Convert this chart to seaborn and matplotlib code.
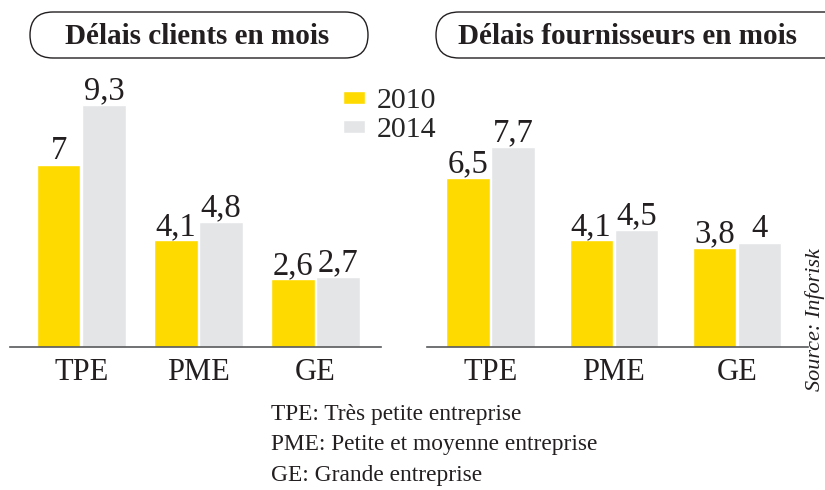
import pandas as pd
import matplotlib.pyplot as plt
from matplotlib.patches import FancyBboxPatch
import seaborn as sns

# data
categories = ["TPE", "PME", "GE"]
years = ["2010", "2014"]
clients_2010 = [7, 4.1, 2.6]
clients_2014 = [9.3, 4.8, 2.7]
fournisseurs_2010 = [6.5, 4.1, 3.8]
fournisseurs_2014 = [7.7, 4.5, 4]
titles = ["Délais clients en mois", "Délais fournisseurs en mois"]
notes = ["TPE: Très petite entreprise",
         "PME: Petite et moyenne entreprise",
         "GE: Grande entreprise"]
source = "Source: Inforisk"

colors = {"2010": "#FFDA00", "2014": "#E4E5E7"}

sns.set_theme(style="white")
plt.rcParams['font.family'] = ['Liberation Serif', 'DejaVu Serif']


def make_df(v2010, v2014):
    return pd.DataFrame({
        "cat": categories * 2,
        "year": [years[0]] * 3 + [years[1]] * 3,
        "val": list(v2010) + list(v2014),
    })


def fmt(v):
    return f"{v:g}".replace(".", ",")


fig = plt.figure(figsize=(8.25, 4.9), dpi=100)

# background layer in pixel units for title pills and notes
bg = fig.add_axes([0, 0, 1, 1])
bg.set_xlim(0, 825)
bg.set_ylim(490, 0)
bg.axis("off")

ax1 = fig.add_axes([10 / 825, 143 / 490, 371 / 825, 286 / 490])
ax2 = fig.add_axes([427 / 825, 143 / 490, 381 / 825, 286 / 490])

panels = [
    (ax1, make_df(clients_2010, clients_2014), 0.77, (-0.61, 2.56)),
    (ax2, make_df(fournisseurs_2010, fournisseurs_2014), 0.73, (-0.515, 2.576)),
]

for ax, df, w, xl in panels:
    sns.barplot(data=df, x="cat", y="val", hue="year", palette=colors,
                width=w, gap=0.04, saturation=1, ax=ax, legend=(ax is ax1))
    for cont, yr in zip(ax.containers, years):
        vals = df[df["year"] == yr]["val"].tolist()
        ax.bar_label(cont, labels=[fmt(v) for v in vals], padding=-1,
                     fontsize=23.5, color="#231f20")
    ax.set_ylim(0, 11)
    ax.set_xlim(*xl)
    ax.set_xlabel("")
    ax.set_ylabel("")
    ax.set_yticks([])
    for s in ["left", "right", "top"]:
        ax.spines[s].set_visible(False)
    ax.spines["bottom"].set_color("#58595b")
    ax.spines["bottom"].set_linewidth(1.2)
    ax.tick_params(axis="x", length=0, pad=8, labelsize=22, labelcolor="#231f20")
    ax.patch.set_alpha(0)

sns.move_legend(ax1, "upper left", bbox_to_anchor=(343 / 825, 1 - 88 / 490),
                bbox_transform=fig.transFigure, frameon=False, title=None,
                fontsize=21.5, handlelength=0.72, handleheight=0.3,
                handletextpad=0.4, labelspacing=0.1, borderpad=0,
                borderaxespad=0)

# title pills
for (x0, wbox), title, cx in zip([(30, 338), (436, 420)], titles, [197, 628]):
    bg.add_patch(FancyBboxPatch((x0, 12), wbox, 46,
                                boxstyle="round,pad=0,rounding_size=23",
                                fc="white", ec="#231f20", lw=1.0))
    bg.text(cx, 36, title, ha="center", va="center", fontsize=21,
            fontweight="bold", color="#231f20")

# notes
for i, line in enumerate(notes):
    bg.text(271, 414 + 30.5 * i, line, ha="left", va="center",
            fontsize=16.8, color="#231f20")

bg.text(825, 248, source, rotation=90, ha="right", va="top",
        fontsize=16, style="italic", color="#231f20")

fig.savefig("out.png", dpi=100)
